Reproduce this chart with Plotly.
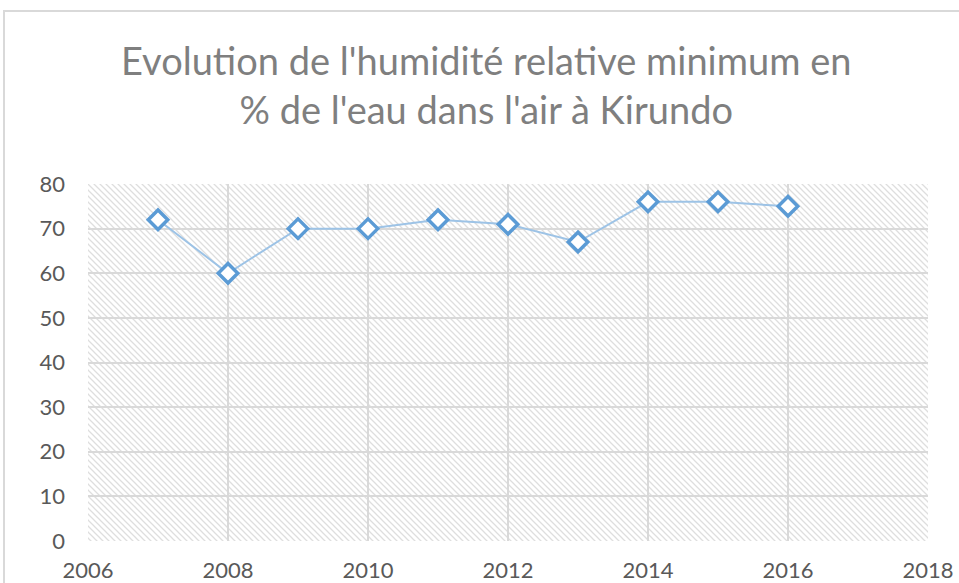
import base64
import plotly.graph_objects as go

years = [2007, 2008, 2009, 2010, 2011, 2012, 2013, 2014, 2015, 2016]
humidity_min = [72, 60, 70, 70, 72, 71, 67, 76, 76, 75]
x_ticks = [2006, 2008, 2010, 2012, 2014, 2016, 2018]
y_ticks = [0, 10, 20, 30, 40, 50, 60, 70, 80]
title_lines = ["Evolution de l'humidité relative minimum en", "% de l'eau dans l'air à Kirundo"]

W, H = 959, 583
ML, MR, MT, MB = 88, 31, 184, 42
PW, PH = W - ML - MR, H - MT - MB

svg = f'''<svg xmlns="http://www.w3.org/2000/svg" width="{PW}" height="{PH}" viewBox="0 0 {PW} {PH}" preserveAspectRatio="none">
<defs><pattern id="p" patternUnits="userSpaceOnUse" width="6" height="6">
<path d="M-1,-1 L7,7 M-1,5 L1,7 M5,-1 L7,1" stroke="#dedede" stroke-width="1.3"/>
</pattern></defs>
<rect width="100%" height="100%" fill="white"/>
<rect width="100%" height="100%" fill="url(#p)"/>
</svg>'''
src = "data:image/svg+xml;base64," + base64.b64encode(svg.encode()).decode()

font = "Lato, Open Sans, sans-serif"

fig = go.Figure()
fig.add_trace(go.Scatter(
    x=years, y=humidity_min, mode="lines+markers",
    line=dict(color="#9dc3e6", width=2),
    marker=dict(symbol="diamond", size=15, color="white",
                line=dict(color="#5b9bd5", width=3.5)),
    showlegend=False, hoverinfo="x+y",
))

fig.update_layout(
    width=W, height=H,
    margin=dict(l=ML, r=MR, t=MT, b=MB, autoexpand=False),
    paper_bgcolor="white", plot_bgcolor="white",
    title=dict(text="<br>".join(title_lines), x=0.507, xanchor="center",
               y=0.872, yanchor="middle",
               font=dict(family=font, size=38, color="#7f7f7f")),
    xaxis=dict(range=[2006, 2018], tickvals=x_ticks, ticktext=[str(v) for v in x_ticks],
               showgrid=True, gridcolor="#d9d9d9", gridwidth=2,
               zeroline=False, showline=False, ticks="", automargin=False,
               ticklabelstandoff=14,
               tickfont=dict(family=font, size=22, color="#595959")),
    yaxis=dict(range=[0, 80], tickvals=y_ticks,
               showgrid=True, gridcolor="#d9d9d9", gridwidth=2,
               zeroline=False, showline=False, ticks="", automargin=False,
               ticklabelstandoff=22,
               tickfont=dict(family=font, size=22, color="#595959")),
    images=[dict(source=src, xref="paper", yref="paper", x=0, y=1,
                 sizex=1, sizey=1, xanchor="left", yanchor="top",
                 sizing="stretch", layer="below")],
    shapes=[dict(type="rect", xref="paper", yref="paper",
                 x0=(4 - ML) / PW, x1=(W + 20 - ML) / PW,
                 y0=-(H - MT - PH + 30) / PH, y1=(H - MB - 11) / PH,
                 line=dict(color="#d9d9d9", width=2), fillcolor="rgba(0,0,0,0)",
                 layer="below")],
)

fig.write_html("out.html", config={"displayModeBar": False},
               post_script="document.body.style.margin='0';document.body.style.overflow='hidden';")
